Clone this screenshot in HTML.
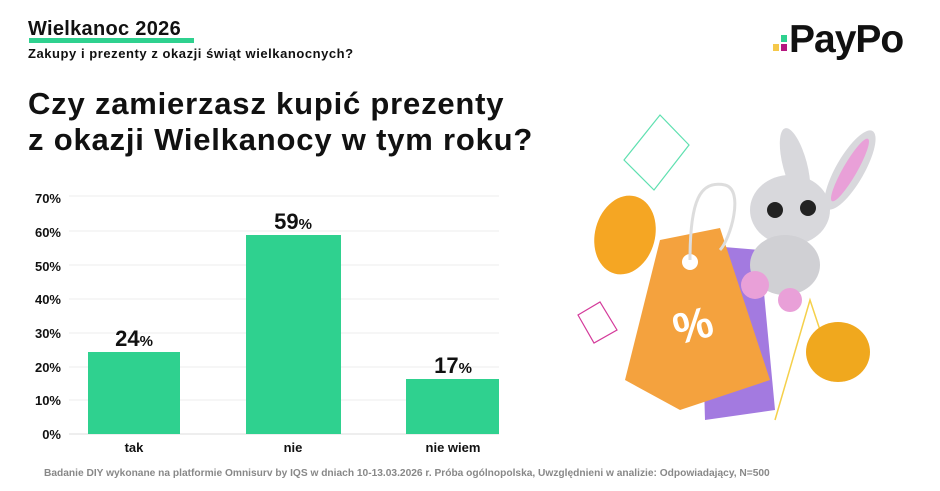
<!DOCTYPE html>
<html><head><meta charset="utf-8"><style>
body{margin:0;width:940px;height:491px;background:#fff;font-family:"Liberation Sans","DejaVu Sans",sans-serif;position:relative;overflow:hidden;color:#111}
.a{position:absolute;white-space:nowrap}
</style></head><body>
<div class="a" style="left:29px;top:38px;width:165px;height:5px;background:#2fd18f"></div>
<div class="a" style="left:28px;top:18px;font-size:20px;font-weight:bold;letter-spacing:0.3px">Wielkanoc 2026</div>
<div class="a" style="left:28px;top:46px;font-size:13px;font-weight:bold;letter-spacing:0.55px">Zakupy i prezenty z okazji świąt wielkanocnych?</div>
<div class="a" style="left:28px;top:86px;font-size:31px;font-weight:bold;line-height:36px;letter-spacing:0.8px">Czy zamierzasz kupić prezenty<br>z okazji Wielkanocy w tym roku?</div>
<div class="a" style="left:781px;top:35px;width:6px;height:7px;background:#2fd18f"></div>
<div class="a" style="left:781px;top:44px;width:6px;height:7px;background:#b5177f"></div>
<div class="a" style="left:773px;top:44px;width:6px;height:7px;background:#f5c84a"></div>
<div class="a" style="left:789px;top:18px;font-size:39px;font-weight:bold;letter-spacing:-1px">PayPo</div>
<svg class="a" style="left:0;top:0" width="940" height="491">
<g stroke="#eee" stroke-width="1">
<line x1="69" x2="499" y1="196" y2="196"/><line x1="69" x2="499" y1="231" y2="231"/><line x1="69" x2="499" y1="265" y2="265"/><line x1="69" x2="499" y1="299" y2="299"/><line x1="69" x2="499" y1="333" y2="333"/><line x1="69" x2="499" y1="367" y2="367"/><line x1="69" x2="499" y1="400" y2="400"/><line x1="69" x2="499" y1="434" y2="434" stroke="#ddd"/>
</g>
<g font-size="13" font-weight="bold" text-anchor="end" fill="#111">
<text x="61" y="203">70%</text><text x="61" y="237">60%</text><text x="61" y="271">50%</text><text x="61" y="304">40%</text><text x="61" y="338">30%</text><text x="61" y="372">20%</text><text x="61" y="405">10%</text><text x="61" y="439">0%</text>
</g>
<g fill="#2fd18f"><rect x="88" y="352" width="92" height="82"/><rect x="246" y="235" width="95" height="199"/><rect x="406" y="379" width="93" height="55"/></g>
<g font-weight="bold" text-anchor="middle" fill="#111">
<text x="134" y="346" font-size="22">24<tspan font-size="15">%</tspan></text>
<text x="293" y="229" font-size="22">59<tspan font-size="15">%</tspan></text>
<text x="453" y="373" font-size="22">17<tspan font-size="15">%</tspan></text>
<g font-size="13"><text x="134" y="452">tak</text><text x="293" y="452">nie</text><text x="453" y="452">nie wiem</text></g>
</g>
<text x="44" y="476" font-size="10.2" fill="#888" font-weight="bold">Badanie DIY wykonane na platformie Omnisurv by IQS w dniach 10-13.03.2026 r.  Próba ogólnopolska, Uwzględnieni w analizie: Odpowiadający, N=500</text>
<polygon points="624,160 660,115 689,145 654,190" fill="none" stroke="#5fe0b0" stroke-width="1.2"/>
<polygon points="578,315 600,302 617,330 594,343" fill="none" stroke="#d43a9a" stroke-width="1.2"/>
<polyline points="775,420 810,300 830,360" fill="none" stroke="#f5d04a" stroke-width="1.5"/>
<ellipse cx="625" cy="235" rx="30" ry="40" fill="#f5a623" transform="rotate(15 625 235)"/>
<ellipse cx="838" cy="352" rx="32" ry="30" fill="#f0a81e"/>
<polygon points="700,245 760,250 775,410 705,420" fill="#a37ae0"/>
<polygon points="660,240 720,228 770,380 680,410 625,380" fill="#f4a23e"/>
<circle cx="690" cy="262" r="8" fill="#fff"/>
<path d="M690,260 C690,200 700,180 725,185 C745,190 730,240 720,250" fill="none" stroke="#ddd" stroke-width="3"/>
<text x="678" y="345" font-size="44" font-weight="bold" fill="#fff" transform="rotate(-15 678 345)">%</text>
<ellipse cx="790" cy="210" rx="40" ry="35" fill="#d8d8dc"/>
<ellipse cx="785" cy="265" rx="35" ry="30" fill="#d0d0d4"/>
<ellipse cx="795" cy="165" rx="12" ry="38" fill="#d8d8dc" transform="rotate(-15 795 165)"/>
<ellipse cx="850" cy="170" rx="14" ry="45" fill="#d8d8dc" transform="rotate(30 850 170)"/>
<ellipse cx="850" cy="170" rx="7" ry="36" fill="#e9a0d8" transform="rotate(30 850 170)"/>
<circle cx="775" cy="210" r="8" fill="#222"/><circle cx="808" cy="208" r="8" fill="#222"/>
<circle cx="755" cy="285" r="14" fill="#e9a0d8"/><circle cx="790" cy="300" r="12" fill="#e9a0d8"/>
</svg>
</body></html>
